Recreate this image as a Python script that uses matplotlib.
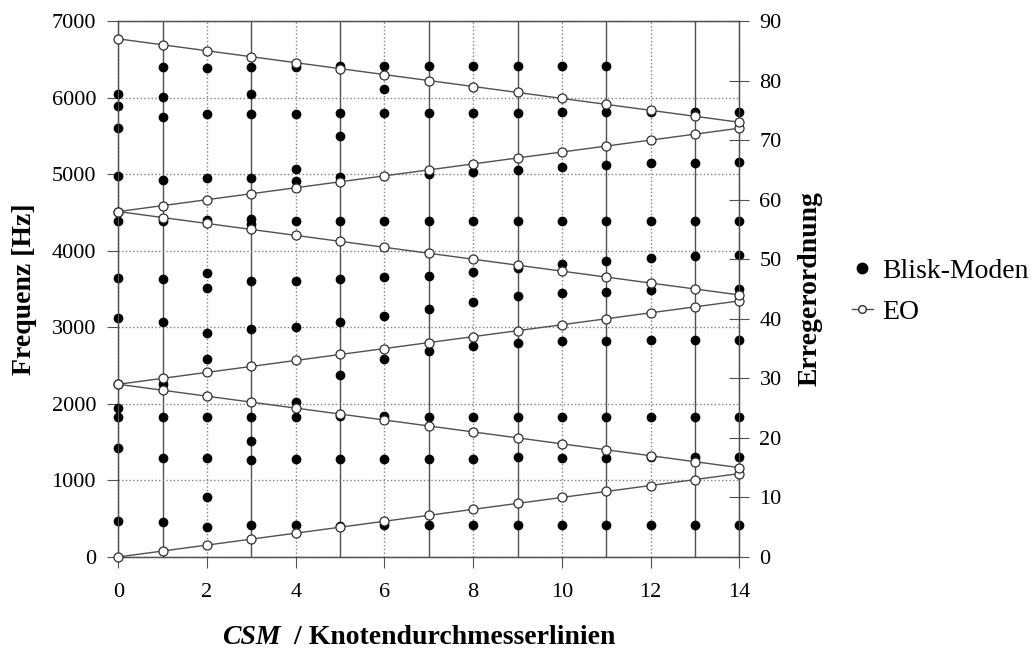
import matplotlib
matplotlib.use('Agg')
from matplotlib import pyplot as plt
from matplotlib.lines import Line2D

plt.rcParams['font.family'] = ['Liberation Serif', 'DejaVu Serif']

# Knotendurchmesser (CSM)
knoten = list(range(15))

# Blisk-Eigenfrequenzen je Knotendurchmesser [Hz]
blisk_freq = [
    [6044, 5888, 5596, 4978, 4386, 3647, 3116, 1949, 1832, 1427, 474],
    [6401, 6001, 5749, 4922, 4386, 3625, 3064, 2260, 1832, 1297, 453],
    [6388, 5783, 4943, 4399, 3703, 3507, 2920, 2585, 1832, 1288, 779, 396],
    [6401, 6053, 5783, 4943, 4413, 4343, 3600, 2972, 1832, 1514, 1266, 418],
    [6401, 5783, 5061, 4909, 4386, 3610, 3007, 2028, 1832, 1279, 418],
    [6410, 5792, 5496, 4965, 4386, 3630, 3064, 2376, 1840, 1279, 410],
    [6410, 6110, 5792, 4386, 3651, 3150, 2585, 1840, 1279, 418],
    [6410, 5792, 5000, 4386, 3672, 3238, 2694, 1832, 1279, 418],
    [6410, 5792, 5030, 4386, 3716, 3325, 2759, 1832, 1279, 418],
    [6410, 5792, 5052, 4386, 3769, 3407, 2789, 1832, 1301, 424],
    [6410, 5805, 5087, 4386, 3821, 3451, 2824, 1832, 1288, 418],
    [6410, 5805, 5117, 4386, 3864, 3464, 2824, 1832, 1297, 424],
    [5810, 5139, 4386, 3899, 3486, 2833, 1832, 1300, 424],
    [5805, 5139, 4386, 3930, 2833, 1832, 1310, 424],
    [5805, 5152, 4386, 3945, 3499, 2833, 1832, 1310, 424],
]

# Erregerordnungen (EO) je Knotendurchmesser
eo_1 = [0, 1, 2, 3, 4, 5, 6, 7, 8, 9, 10, 11, 12, 13, 14]
eo_2 = [29, 28, 27, 26, 25, 24, 23, 22, 21, 20, 19, 18, 17, 16, 15]
eo_3 = [29, 30, 31, 32, 33, 34, 35, 36, 37, 38, 39, 40, 41, 42, 43]
eo_4 = [58, 57, 56, 55, 54, 53, 52, 51, 50, 49, 48, 47, 46, 45, 44]
eo_5 = [58, 59, 60, 61, 62, 63, 64, 65, 66, 67, 68, 69, 70, 71, 72]
eo_6 = [87, 86, 85, 84, 83, 82, 81, 80, 79, 78, 77, 76, 75, 74, 73]
eo_lines = [eo_1, eo_2, eo_3, eo_4, eo_5, eo_6]

solid_c = '#505050'
dot_c = '#808080'

fig = plt.figure(figsize=(10.34, 6.5), dpi=100)
ax = fig.add_axes([0.1144, 0.1431, 0.6006, 0.8246])

ax.set_xlim(0, 14)
ax.set_ylim(0, 7000)
ax.set_xticks(range(0, 15, 2))
ax.set_xticks(range(1, 15, 2), minor=True)
ax.set_yticks(range(0, 7001, 1000))

# gerade Knoten gepunktet, ungerade durchgezogen
ax.grid(which='major', axis='x', color=dot_c, linestyle=':', linewidth=1)
ax.grid(which='minor', axis='x', color=solid_c, linestyle='-', linewidth=1)
ax.grid(which='major', axis='y', color=dot_c, linestyle=':', linewidth=1)
ax.set_axisbelow(True)

for sp in ax.spines.values():
    sp.set_color(solid_c)
    sp.set_linewidth(1)

ax.tick_params(axis='x', which='major', direction='out', length=8, pad=11,
               labelsize=16, color=solid_c)
ax.tick_params(axis='x', which='minor', length=0)
ax.tick_params(axis='y', direction='out', length=8, pad=8, labelsize=16,
               color=solid_c)

for k, freqs in zip(knoten, blisk_freq):
    ax.plot([k] * len(freqs), freqs, 'o', color='black', markersize=6,
            clip_on=False, zorder=3)

ax2 = ax.twinx()
ax2.set_ylim(0, 90)
ax2.set_yticks(range(0, 91, 10))
ax2.tick_params(axis='y', direction='inout', length=15, pad=7, labelsize=16,
                color=solid_c)
for sp in ax2.spines.values():
    sp.set_color(solid_c)

for eo in eo_lines:
    ax2.plot(knoten, eo, '-o', color=solid_c, linewidth=1, markersize=6.5,
             markerfacecolor='white', markeredgecolor='#303030',
             markeredgewidth=0.9, clip_on=False, zorder=4)

ax.set_ylabel('Frequenz [Hz]', fontsize=20, fontweight='bold')
ax.yaxis.set_label_coords(-0.131, 0.5)
ax2.set_ylabel('Erregerordnung', fontsize=20, fontweight='bold')
ax2.yaxis.set_label_coords(1.093, 0.5)

t1 = fig.text(0.2147, 0.0, 'CSM', fontsize=20, fontweight='bold',
              style='italic', va='bottom', ha='left')
ax.annotate('  / Knotendurchmesserlinien', xy=(1, 0), xycoords=t1,
            fontsize=20, fontweight='bold', va='bottom', ha='left')

handles = [
    Line2D([], [], marker='o', color='black', linestyle='none', markersize=7.5),
    Line2D([], [], marker='o', color=solid_c, linewidth=1, markersize=5.5,
           markerfacecolor='white', markeredgecolor='#303030'),
]
fig.legend(handles, ['Blisk-Moden', 'EO'], loc='center left',
           bbox_to_anchor=(0.824, 0.551), frameon=False, fontsize=20,
           handlelength=0.75, handletextpad=0.35, labelspacing=0.56,
           borderpad=0, borderaxespad=0)

fig.savefig('out.png', dpi=100)
